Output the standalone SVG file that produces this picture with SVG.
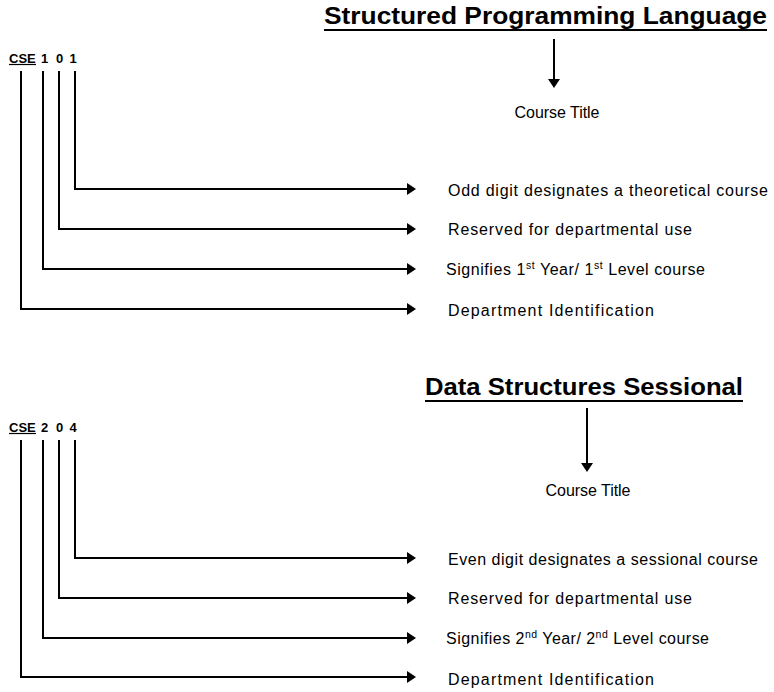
<svg xmlns="http://www.w3.org/2000/svg" width="774" height="692" viewBox="0 0 774 692">
<style>
  .title { font-family: "Liberation Sans", Arial, sans-serif; font-weight: bold; font-size: 24px; fill: #000; }
  .code { font-family: "Liberation Sans", Arial, sans-serif; font-weight: bold; font-size: 13px; fill: #000; }
  .lbl { font-family: "Liberation Sans", Arial, sans-serif; font-size: 16px; fill: #000; }
  .sup { font-size: 10.5px; }
  .ul { stroke: #000; stroke-width: 2; }
  .conn { fill: none; stroke: #000; stroke-width: 2; marker-end: url(#ah); }
</style>
<defs>
  <marker id="ah" markerUnits="userSpaceOnUse" viewBox="0 0 9 12" markerWidth="9" markerHeight="12" refX="1" refY="6" orient="auto">
    <path d="M0,0 L9,6 L0,12 Z" fill="#000"/>
  </marker>
</defs>
<rect width="774" height="692" fill="#fff"/>

<!-- Section 1 -->
<g id="title1">
  <text class="title" x="324" y="24" textLength="443" lengthAdjust="spacingAndGlyphs">Structured Programming Language</text>
  <line class="ul" x1="324" y1="30" x2="767" y2="30"/>
</g>
<g id="code1">
  <text class="code" x="9" y="63">CSE</text>
  <line x1="9" y1="64.5" x2="36" y2="64.5" stroke="#000" stroke-width="1.2"/>
  <text class="code" x="44.5" y="63" text-anchor="middle">1</text>
  <text class="code" x="59.5" y="63" text-anchor="middle">0</text>
  <text class="code" x="73" y="63" text-anchor="middle">1</text>
</g>
<g id="ct1"><text class="lbl" x="557" y="118" text-anchor="middle" textLength="85" lengthAdjust="spacing">Course Title</text></g>
<g id="odd1"><text class="lbl" x="448" y="195.5" textLength="320" lengthAdjust="spacing">Odd digit designates a theoretical course</text></g>
<g id="res1"><text class="lbl" x="448" y="235" textLength="244" lengthAdjust="spacing">Reserved for departmental use</text></g>
<g id="sig1"><text class="lbl" x="446" y="275" textLength="259" lengthAdjust="spacing">Signifies 1<tspan class="sup" dy="-6">st</tspan><tspan dy="6"> Year/ 1</tspan><tspan class="sup" dy="-6">st</tspan><tspan dy="6"> Level course</tspan></text></g>
<g id="dep1"><text class="lbl" x="448" y="316" textLength="206" lengthAdjust="spacing">Department Identification</text></g>

<!-- Section 2 -->
<g id="title2">
  <text class="title" x="425" y="395" textLength="318" lengthAdjust="spacingAndGlyphs">Data Structures Sessional</text>
  <line class="ul" x1="425" y1="401" x2="743" y2="401"/>
</g>
<g id="code2">
  <text class="code" x="9" y="432">CSE</text>
  <line x1="9" y1="433.5" x2="36" y2="433.5" stroke="#000" stroke-width="1.2"/>
  <text class="code" x="44.5" y="432" text-anchor="middle">2</text>
  <text class="code" x="59.5" y="432" text-anchor="middle">0</text>
  <text class="code" x="73" y="432" text-anchor="middle">4</text>
</g>
<g id="ct2"><text class="lbl" x="588" y="496" text-anchor="middle" textLength="85" lengthAdjust="spacing">Course Title</text></g>
<g id="even2"><text class="lbl" x="448" y="564.5" textLength="310" lengthAdjust="spacing">Even digit designates a sessional course</text></g>
<g id="res2"><text class="lbl" x="448" y="604" textLength="244" lengthAdjust="spacing">Reserved for departmental use</text></g>
<g id="sig2"><text class="lbl" x="446" y="644" textLength="263" lengthAdjust="spacing">Signifies 2<tspan class="sup" dy="-6">nd</tspan><tspan dy="6"> Year/ 2</tspan><tspan class="sup" dy="-6">nd</tspan><tspan dy="6"> Level course</tspan></text></g>
<g id="dep2"><text class="lbl" x="448" y="685" textLength="206" lengthAdjust="spacing">Department Identification</text></g>

<g id="connectors">
  <path class="conn" d="M554,39 V80"/>
  <path class="conn" d="M75,71 V189 H408"/>
  <path class="conn" d="M59,71 V229 H408"/>
  <path class="conn" d="M43,71 V269 H408"/>
  <path class="conn" d="M21,71 V309 H408"/>

  <path class="conn" d="M587,408 V464"/>
  <path class="conn" d="M75,440 V558 H408"/>
  <path class="conn" d="M59,440 V598 H408"/>
  <path class="conn" d="M43,440 V638 H408"/>
  <path class="conn" d="M21,440 V677 H408"/>
</g>
</svg>
